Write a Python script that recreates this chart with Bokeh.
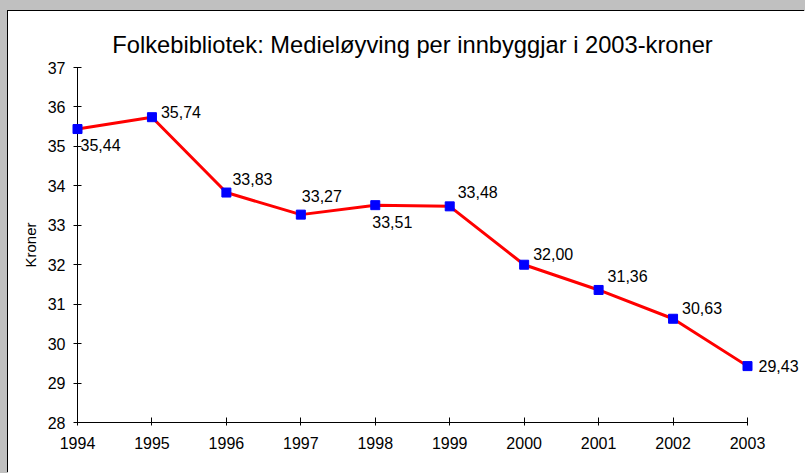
from bokeh.plotting import figure
from bokeh.models import ColumnDataSource, Range1d, FixedTicker
from bokeh.core.properties import value
from bokeh.embed import file_html
from bokeh.resources import INLINE

# ---- data ----
years = [1994, 1995, 1996, 1997, 1998, 1999, 2000, 2001, 2002, 2003]
kroner = [35.44, 35.74, 33.83, 33.27, 33.51, 33.48, 32.00, 31.36, 30.63, 29.43]
y_ticks = [28, 29, 30, 31, 32, 33, 34, 35, 36, 37]
title_text = "Folkebibliotek: Medieløyving per innbyggjar i 2003-kroner"
y_label = "Kroner"

# ---- label placement (screen px, style only) ----
label_dx = [3, 9, 6, 1, -3, 8, 9, 9, 9, 11]
label_dy = [16, -5, -14, -19, 17, -14, -11, -14, -11, 0]

FONT = "Liberation Sans"

labels = [f"{v:.2f}".replace(".", ",") for v in kroner]
src = ColumnDataSource(dict(x=years, y=kroner, lab=labels,
                            dx=label_dx, dy=label_dy))

p = figure(width=797, height=462, output_backend="svg", toolbar_location=None,
           x_range=Range1d(1994, 2003), y_range=Range1d(28, 37),
           min_border_left=69, min_border_right=58, min_border_top=56,
           min_border_bottom=51, title=title_text,
           outline_line_color=None, outline_line_alpha=0.0,
           outline_line_width=0)

# grey window strip on top/left with a dark edge around the white chart area
p.styles = {"margin-left": "8px", "margin-top": "11px",
            "background-color": "#ffffff",
            "box-shadow": "-1px -1px 0 0 #000000, 0 0 0 20px #c0c0c0"}

p.background_fill_color = "white"
p.border_fill_color = "white"
p.grid.visible = False

p.title.align = "center"
p.title.text_font = FONT
p.title.text_font_size = "23.7px"
p.title.text_font_style = "normal"
p.title.text_color = "black"
p.title.standoff = 19

for ax in (p.xaxis[0], p.yaxis[0]):
    ax.axis_line_color = "black"
    ax.major_tick_line_color = "black"
    ax.minor_tick_line_color = None
    ax.major_label_text_font = FONT
    ax.major_label_text_font_size = "16px"
    ax.major_label_text_color = "black"

p.xaxis.ticker = FixedTicker(ticks=years)
p.xaxis.major_tick_in = 5
p.xaxis.major_tick_out = 3
p.xaxis.major_label_standoff = 11
p.yaxis.ticker = FixedTicker(ticks=y_ticks)
p.yaxis.major_tick_in = 4
p.yaxis.major_tick_out = 4
p.yaxis.major_label_standoff = 8

p.yaxis.axis_label = y_label
p.yaxis.axis_label_text_font = FONT
p.yaxis.axis_label_text_font_size = "15px"
p.yaxis.axis_label_text_font_style = "normal"
p.yaxis.axis_label_text_color = "black"
p.yaxis.axis_label_standoff = 6

p.line("x", "y", source=src, line_color="#FF0000", line_width=3)
p.scatter("x", "y", source=src, marker="square", size=9,
          fill_color="#0000FF", line_color="#0000FF", level="overlay")
p.text("x", "y", text="lab", source=src, x_offset="dx", y_offset="dy",
       text_font=value(FONT), text_font_size=value("16px"),
       text_color="black", text_align="left", text_baseline="middle",
       level="overlay")

PAGE = "{% block postamble %}<style>html, body { background-color: #c0c0c0; }</style>{% endblock %}"

open("out.html", "w").write(file_html(p, INLINE, template=PAGE))
